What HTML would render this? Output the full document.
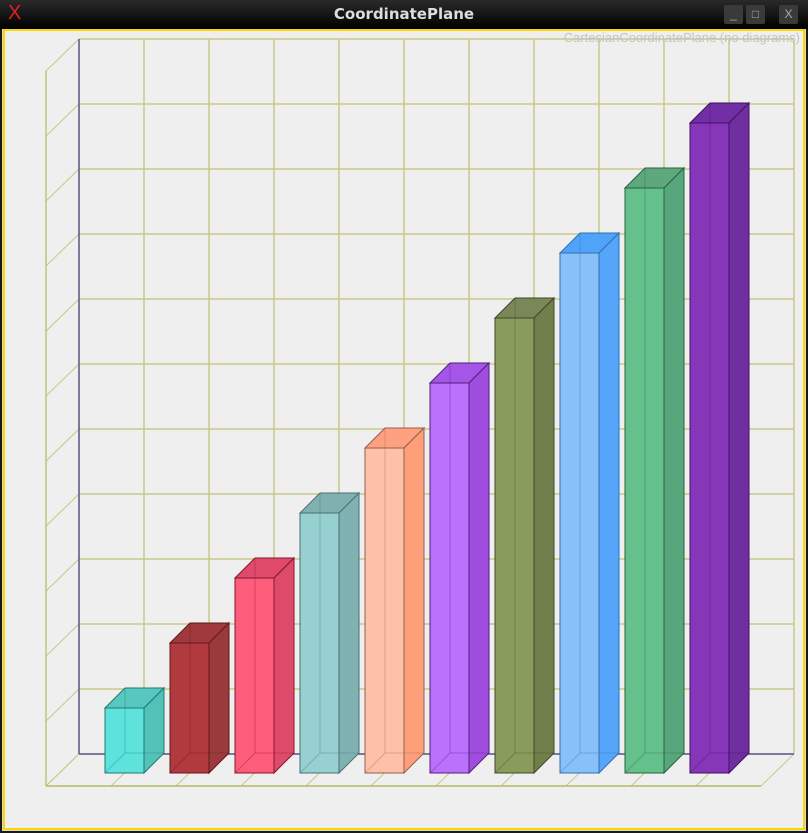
<!DOCTYPE html>
<html><head><meta charset="utf-8"><style>
html,body{margin:0;padding:0;background:#000;}
#win{position:relative;width:808px;height:833px;background:#1a1a1a;overflow:hidden;font-family:"Liberation Sans","DejaVu Sans",sans-serif;}
#titlebar{position:absolute;left:0;top:0;width:808px;height:29px;background:linear-gradient(#2a2a2a,#000);}
#title{position:absolute;left:0;width:808px;top:5px;text-align:center;color:#ddd;font-weight:bold;font-size:15px;font-family:"DejaVu Sans",sans-serif;}
#content{position:absolute;left:2px;top:29px;width:804px;height:802px;background:#d8d8d0;}
.btn{position:absolute;top:5px;width:19px;height:19px;background:#3a3a3a;border-radius:2px;color:#aaa;font-size:12px;text-align:center;line-height:19px;}
</style></head><body>
<div id="win">
<div id="titlebar">
<div style="position:absolute;left:8px;top:2px;color:#e02020;font-size:20px;">X</div>
<div id="title">CoordinatePlane</div>
<div class="btn" style="left:724px">_</div>
<div class="btn" style="left:746px">□</div>
<div class="btn" style="left:779px">X</div>
</div>
<div id="content">
<svg id="chart" width="804" height="802" viewBox="2 29 804 802" style="position:absolute;left:0;top:0">
<rect x="4" y="30" width="800" height="799" fill="#efefef" stroke="#ffd700" stroke-width="2"/>
<g id="grid"></g>
<g id="bars"></g>
<text x="800" y="42" text-anchor="end" font-size="13" fill="#c4c4c4" font-family="Liberation Sans, sans-serif">CartesianCoordinatePlane (no diagrams)</text>
</svg>
</div>
</div>
<script>
const categories=["c1","c2","c3","c4","c5","c6","c7","c8","c9","c10"];
const values=[1,2,3,4,5,6,7,8,9,10];
const frontColors=["#5de3dc","#b13a3f","#fd5c7a","#97d0d1","#ffc0a8","#ba71fc","#8a9c5c","#88c0f9","#65c18c","#8637b9"];
const sideColors=["#52c2b8","#9a3a3c","#de4a69","#80b2b3","#ff9f7a","#a04ee0","#707f4b","#55a6fa","#58a67c","#6f2fa0"];
const topColors=["#56c8c0","#a0393e","#e04a6a","#80b0b0","#ffa080","#a555e8","#7a8758","#4fa3f8","#5ea87e","#722fa5"];
const edgeColors=["#207870","#601818","#801830","#4a7070","#906050","#50207a","#404828","#3070b0","#2a6040","#401060"];
const NS="http://www.w3.org/2000/svg";
const BX0=79,BX1=794,BY0=39,BY1=754,DX=-33,DY=32,COL=65,YMAX=11;
const xs=i=>BX0+COL*i;
const ys=v=>BY1-(BY1-BY0)*v/YMAX;
function el(tag,attrs,parent){const e=document.createElementNS(NS,tag);for(const k in attrs)e.setAttribute(k,attrs[k]);parent.appendChild(e);return e;}
const grid=document.getElementById('grid');
const gc="#c8c888";
for(let i=0;i<=11;i++){
  const y=ys(i);
  const h=el('line',{x1:BX0,y1:y,x2:BX1,y2:y,stroke:gc,'stroke-width':1.5},grid);
  
  
  const d=el('line',{x1:BX0,y1:y,x2:BX0+DX,y2:y+DY,stroke:gc,'stroke-width':1},grid);
  
  
}
for(let i=0;i<=11;i++){
  const x=xs(i);
  const v=el('line',{x1:x,y1:BY0,x2:x,y2:BY1,stroke:gc,'stroke-width':1.5},grid);
  
  
  const d=el('line',{x1:x,y1:BY1,x2:x+DX,y2:BY1+DY,stroke:gc,'stroke-width':1},grid);
  
  
}
const lw=el('line',{x1:BX0+DX,y1:BY0+DY,x2:BX0+DX,y2:BY1+DY,stroke:"#b8b860",'stroke-width':1.2},grid);


const fl=el('line',{x1:BX0+DX,y1:BY1+DY,x2:BX1+DX,y2:BY1+DY,stroke:"#b8b860",'stroke-width':1.5},grid);


const ya=el('line',{x1:BX0,y1:BY0,x2:BX0,y2:BY1,stroke:"#5a5a90",'stroke-width':1.5},grid);


const xa=el('line',{x1:BX0,y1:BY1,x2:BX1,y2:BY1,stroke:"#5a5a90",'stroke-width':1.5},grid);


const bars=document.getElementById('bars');
const W=39,D=20,BOT=BY1+19;
values.forEach((v,i)=>{
  const x0=xs(i)+26,x1=x0+W;
  const top=BOT-(ys(0)-ys(v));
  const g=el('g',{},bars);
  
  
  const ec=edgeColors[i];
  el('polygon',{points:`${x0},${top} ${x0+D},${top-D} ${x1+D},${top-D} ${x1},${top}`,fill:topColors[i],stroke:ec,'stroke-width':1},g);
  el('polygon',{points:`${x1},${top} ${x1+D},${top-D} ${x1+D},${BOT-D} ${x1},${BOT}`,fill:sideColors[i],stroke:ec,'stroke-width':1},g);
  el('rect',{x:x0,y:top,width:W,height:BOT-top,fill:frontColors[i],stroke:ec,'stroke-width':1},g);
  el('polyline',{points:`${x0+D},${top-D} ${x0+D},${BOT-D} ${x0},${BOT}`,fill:"none",stroke:ec,'stroke-opacity':0.35,'stroke-width':1},g);
  el('line',{x1:x0+D,y1:BOT-D,x2:x1+D,y2:BOT-D,stroke:ec,'stroke-opacity':0.35,'stroke-width':1},g);
});
</script>
</body></html>
